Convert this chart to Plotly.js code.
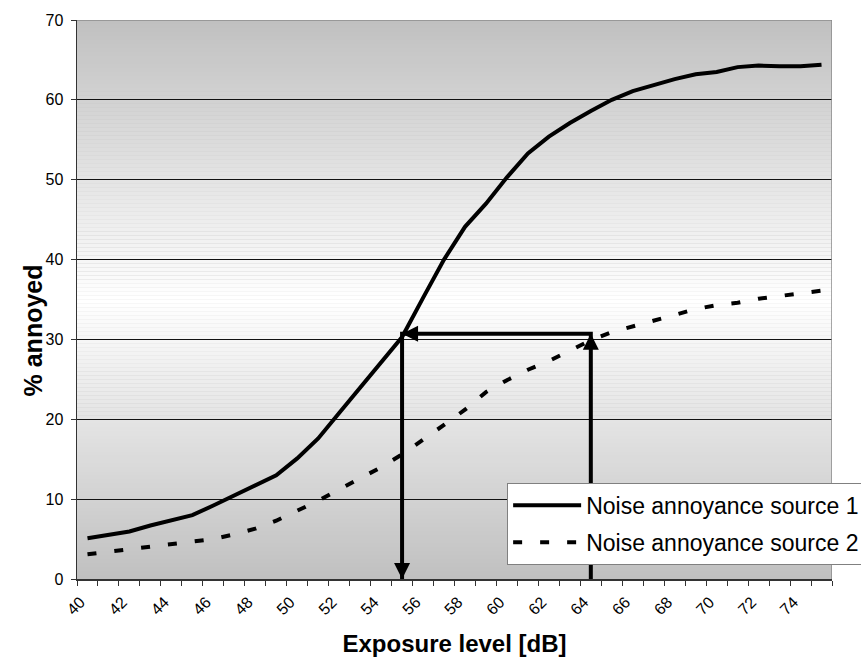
<!DOCTYPE html>
<html>
<head>
<meta charset="utf-8">
<script src="https://cdn.plot.ly/plotly-3.0.1.min.js"></script>
<style>
  html, body { margin: 0; padding: 0; background: #ffffff; }
  #chart { width: 861px; height: 657px; }
</style>
</head>
<body>
<div id="chart"></div>
<script>
// Exposure levels (dB), one category per dB step
const exposureLevels = [40, 41, 42, 43, 44, 45, 46, 47, 48, 49, 50, 51, 52, 53, 54, 55, 56, 57,
                        58, 59, 60, 61, 62, 63, 64, 65, 66, 67, 68, 69, 70, 71, 72, 73, 74, 75];

// Percentage annoyed for each noise source
const source1Annoyed = [5.1, 5.5, 5.95, 6.7, 7.3, 8.0, 9.2, 10.5, 11.7, 13.0, 15.1, 17.6,
                        20.8, 24.0, 27.1, 30.3, 35.2, 40.0, 44.1, 47.0, 50.3, 53.3, 55.4, 57.1,
                        58.6, 60.0, 61.1, 61.9, 62.6, 63.2, 63.5, 64.1, 64.3, 64.2, 64.2, 64.4];
const source2Annoyed = [3.1, 3.4, 3.7, 4.1, 4.4, 4.6, 5.0, 5.6, 6.3, 7.3, 8.5, 9.8,
                        11.2, 12.6, 14.0, 15.6, 17.4, 19.3, 21.2, 23.4, 24.9, 26.2, 27.3, 28.6,
                        29.9, 30.9, 31.6, 32.3, 33.0, 33.8, 34.3, 34.6, 35.1, 35.4, 35.8, 36.1];

const seriesNames = ['Noise annoyance source 1', 'Noise annoyance source 2'];

// Axis ticks
const xTickLabels = [40, 42, 44, 46, 48, 50, 52, 54, 56, 58, 60, 62, 64, 66, 68, 70, 72, 74];
const yTickValues = [0, 10, 20, 30, 40, 50, 60, 70];

// Reading guide: up from 64 dB to source 2, across to source 1, down to 55 dB
const guideX = [64, 64, 55, 55];
const guideY = [0, 30.7, 30.7, 0];

const FONT = 'Liberation Sans, Arial, Helvetica, sans-serif';

const xMin = exposureLevels[0] - 0.5;
const xMax = exposureLevels[exposureLevels.length - 1] + 0.5;
const yMin = yTickValues[0];
const yMax = yTickValues[yTickValues.length - 1];

// Category boundaries carry the x tick marks
const categoryEdges = exposureLevels.map(v => v - 0.5).concat([xMax]);

// Plot-area fill: grey at top and bottom, white through the middle
const shapes = [];
const bandStep = 0.5;
for (let y = yMin; y < yMax; y += bandStep) {
  const t = (y + bandStep / 2 - yMin) / (yMax - yMin);
  const g = Math.round(192 + 63 * (1 - Math.abs(t - 0.5) / 0.5));
  shapes.push({
    type: 'rect', xref: 'x', yref: 'y', layer: 'below',
    x0: xMin, x1: xMax, y0: y, y1: y + bandStep + 0.02,
    fillcolor: `rgb(${g},${g},${g})`, line: { width: 0 }
  });
}
// Grey frame along the top and right edge of the plot area
shapes.push({
  type: 'path', xref: 'x', yref: 'y', layer: 'above',
  path: `M${xMin},${yMax} L${xMax},${yMax} L${xMax},${yMin}`,
  line: { color: '#8a8a8a', width: 1.5 }
});

const traces = [
  {
    x: exposureLevels, y: source1Annoyed, name: seriesNames[0], legendgroup: 's1',
    type: 'scatter', mode: 'lines',
    line: { color: '#000000', width: 4 }
  },
  {
    x: exposureLevels, y: source2Annoyed, name: seriesNames[1], legendgroup: 's2',
    type: 'scatter', mode: 'lines',
    line: { color: '#000000', width: 4, dash: '9px,18px' }
  },
  {
    x: guideX, y: guideY, type: 'scatter', mode: 'lines', showlegend: false,
    line: { color: '#000000', width: 4 }, hoverinfo: 'skip'
  }
];

// Arrow heads at the ends of the reading guide
const headStyle = { xref: 'x', yref: 'y', text: '', showarrow: true, arrowhead: 2,
                    arrowsize: 0.8, arrowwidth: 4, arrowcolor: '#000000' };
const annotations = [
  Object.assign({}, headStyle, { x: guideX[1], y: guideY[1], ax: 0, ay: 16 }),
  Object.assign({}, headStyle, { x: guideX[2], y: guideY[2], ax: 16, ay: 0 }),
  Object.assign({}, headStyle, { x: guideX[3], y: guideY[3], ax: 0, ay: -16 }),
  {
    xref: 'paper', yref: 'paper', x: -0.058, y: 0.445, xanchor: 'center', yanchor: 'middle',
    showarrow: false, text: '% annoyed', textangle: -90,
    font: { family: FONT, size: 25, color: '#000000', weight: 'bold' }
  }
];

const layout = {
  width: 861, height: 657,
  margin: { l: 77, r: 29, t: 20, b: 78, autoexpand: false },
  paper_bgcolor: '#ffffff', plot_bgcolor: '#c0c0c0',
  font: { family: FONT, color: '#000000' },
  showlegend: true,
  legend: {
    xref: 'container', yref: 'container',
    x: 0.589, y: 0.265, xanchor: 'left', yanchor: 'top',
    bgcolor: '#ffffff', bordercolor: '#808080', borderwidth: 1,
    font: { family: FONT, size: 23, color: '#000000' },
    tracegroupgap: 4, itemwidth: 68
  },
  xaxis: {
    range: [xMin, xMax], tickmode: 'array', tickvals: xTickLabels,
    ticktext: xTickLabels.map(String), tickangle: -45, ticks: '',
    tickfont: { family: FONT, size: 16, color: '#000000' },
    ticklabelstandoff: 6, ticklabelshift: -7,
    minor: { tickmode: 'array', tickvals: categoryEdges, ticks: 'outside', ticklen: 5,
             tickcolor: '#333333', tickwidth: 1, showgrid: false },
    showgrid: false, zeroline: false, showline: true, linecolor: '#333333', linewidth: 1.5,
    title: { text: 'Exposure level [dB]', standoff: 18,
             font: { family: FONT, size: 24, color: '#000000', weight: 'bold' } }
  },
  yaxis: {
    range: [yMin, yMax], tickmode: 'array', tickvals: yTickValues,
    ticks: 'outside', ticklen: 5, tickcolor: '#333333', tickwidth: 1,
    tickfont: { family: FONT, size: 16, color: '#000000' }, ticklabelstandoff: 4,
    showgrid: true, gridcolor: '#111111', gridwidth: 1,
    zeroline: false, showline: true, linecolor: '#333333', linewidth: 1.5
  },
  shapes: shapes,
  annotations: annotations
};

Plotly.newPlot('chart', traces, layout, { staticPlot: true, displayModeBar: false });
</script>
</body>
</html>
